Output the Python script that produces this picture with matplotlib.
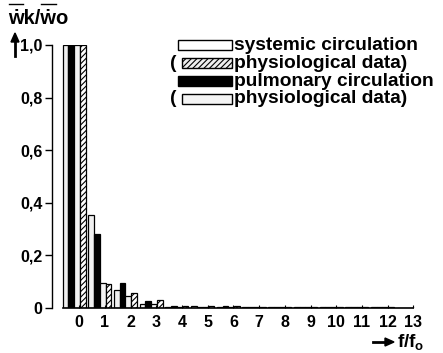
import matplotlib
matplotlib.use("Agg")
import matplotlib.pyplot as plt
from matplotlib.patches import Rectangle
import numpy as np

plt.rcParams['font.family'] = ['Liberation Sans', 'DejaVu Sans']
plt.rcParams['mathtext.fontset'] = 'custom'
plt.rcParams['mathtext.rm'] = 'Liberation Sans:bold'
plt.rcParams['mathtext.it'] = 'Liberation Sans:bold'
plt.rcParams['mathtext.bf'] = 'Liberation Sans:bold'
plt.rcParams['hatch.linewidth'] = 0.8

harmonics = list(range(14))
systemic = [1.0, 0.354, 0.068, 0.015, 0.005, 0.006, 0.004, 0.002, 0.002, 0.002, 0.002, 0.002, 0.002, 0.0]
pulmonary = [1.0, 0.281, 0.095, 0.025, 0.008, 0.005, 0.006, 0.002, 0.002, 0.003, 0.003, 0.002, 0.002, 0.0]
phys_pulmonary = [1.0, 0.095, 0.046, 0.015, 0.004, 0.004, 0.005, 0.002, 0.002, 0.002, 0.002, 0.002, 0.002, 0.0]
phys_systemic = [1.0, 0.091, 0.057, 0.029, 0.007, 0.009, 0.009, 0.002, 0.002, 0.002, 0.002, 0.002, 0.002, 0.0]
ytick_vals = [0.0, 0.2, 0.4, 0.6, 0.8, 1.0]
ytick_labels = ['0', '0,2', '0,4', '0,6', '0,8', '1,0']
legend_labels = ['systemic circulation', 'physiological data)', 'pulmonary circulation', 'physiological data)']

W, H = 443, 353
fig = plt.figure(figsize=(W / 100, H / 100), dpi=100)
fig.patch.set_facecolor('white')

x0_px, x1_px = 52, 414.6
yb_px, yt_px = 308, 45
ax = fig.add_axes([x0_px / W, (H - yb_px) / H, (x1_px - x0_px) / W, (yb_px - yt_px) / H])
ax.set_xlim(-0.86, 13.25)
ax.set_ylim(0, 1.0)

x = np.array(harmonics, dtype=float)
bw = 0.225
offs = [-1.5 * bw, -0.5 * bw, 0.5 * bw, 1.5 * bw]
ax.bar(x + offs[0], systemic, bw, facecolor='#f0f0f0', edgecolor='black', linewidth=0.9)
ax.bar(x + offs[1], pulmonary, bw, facecolor='black', edgecolor='black', linewidth=0.9)
ax.bar(x + offs[2], phys_pulmonary, bw, facecolor='#f4f4f4', edgecolor='black', linewidth=0.9)
ax.bar(x + offs[3], phys_systemic, bw, facecolor='white', edgecolor='black', linewidth=0.9, hatch='//////')

for s in ['top', 'right', 'bottom']:
    ax.spines[s].set_visible(False)
ax.spines['left'].set_linewidth(1.0)
ax.plot([-0.45, 13.2], [0, 0], color='black', lw=1.2, clip_on=False)

ax.set_yticks(ytick_vals)
ax.set_yticklabels(ytick_labels, fontsize=11.5, fontweight='bold')
ax.tick_params(axis='y', direction='out', length=5, width=1.0, pad=2)
ax.set_xticks(x + 0.2)
ax.set_xticklabels([str(h) for h in harmonics], fontsize=11.5, fontweight='bold')
ax.tick_params(axis='x', direction='in', length=2, width=0.8, pad=5)

# y label: dotted w's with overbars drawn as lines
renderer = fig.canvas.get_renderer()
lab_kw = dict(fontsize=14.5, fontweight='bold', va='baseline', ha='left')
lx, ly = 8, 24  # px from left, px from top (baseline)
t = fig.text(lx / W, 1 - ly / H, 'ẇk/ẇo', **lab_kw)
def _w(s):
    tt = fig.text(0, 0, s, **lab_kw)
    w = tt.get_window_extent(renderer).width
    tt.remove()
    return w
w_w = _w('ẇ')
pre2 = _w('ẇk/')
for start in (0.0, pre2):
    xa = (lx + start + 0.5) / W
    xb = (lx + start + w_w - 0.5) / W
    fig.add_artist(plt.Line2D([xa, xb], [1 - (ly - 20) / H] * 2, color='black', lw=1.0))

fig.add_artist(plt.Line2D([15 / W, 15 / W], [1 - 56 / H, 1 - 40 / H], color='black', lw=2))
fig.add_artist(plt.Polygon([[11 / W, 1 - 42 / H], [19 / W, 1 - 42 / H], [15 / W, 1 - 33 / H]],
                           closed=True, color='black', transform=fig.transFigure))
fig.add_artist(plt.Line2D([373 / W, 386 / W], [1 - 342 / H, 1 - 342 / H], color='black', lw=2))
fig.add_artist(plt.Polygon([[385 / W, 1 - 338 / H], [385 / W, 1 - 346 / H], [394 / W, 1 - 342 / H]],
                           closed=True, color='black', transform=fig.transFigure))
fig.text(397 / W, 1 - 342 / H, r'$\mathrm{f/f}_\mathrm{o}$', fontsize=13.5, va='center', ha='left')

# legend drawn manually
rows_y = [45, 63, 81, 99]
styles = [dict(facecolor='white', hatch=None),
          dict(facecolor='#eeeeee', hatch='//////'),
          dict(facecolor='black', hatch=None),
          dict(facecolor='#f4f4f4', hatch=None)]
paren = [False, True, False, True]
for yy, lab, st, p in zip(rows_y, legend_labels, styles, paren):
    bx0 = 178 if not p else 182
    r = Rectangle((bx0 / W, 1 - (yy + 5) / H), (232 - bx0) / W, 10 / H, transform=fig.transFigure,
                  facecolor=st['facecolor'], edgecolor='black', linewidth=1.0, hatch=st['hatch'])
    fig.add_artist(r)
    if p:
        fig.text(170 / W, 1 - yy / H, '(', fontsize=13.8, fontweight='bold', va='center', ha='left')
    fig.text(234 / W, 1 - yy / H, lab, fontsize=13.8, fontweight='bold', va='center', ha='left')

fig.savefig('out.png', dpi=100, facecolor='white')
